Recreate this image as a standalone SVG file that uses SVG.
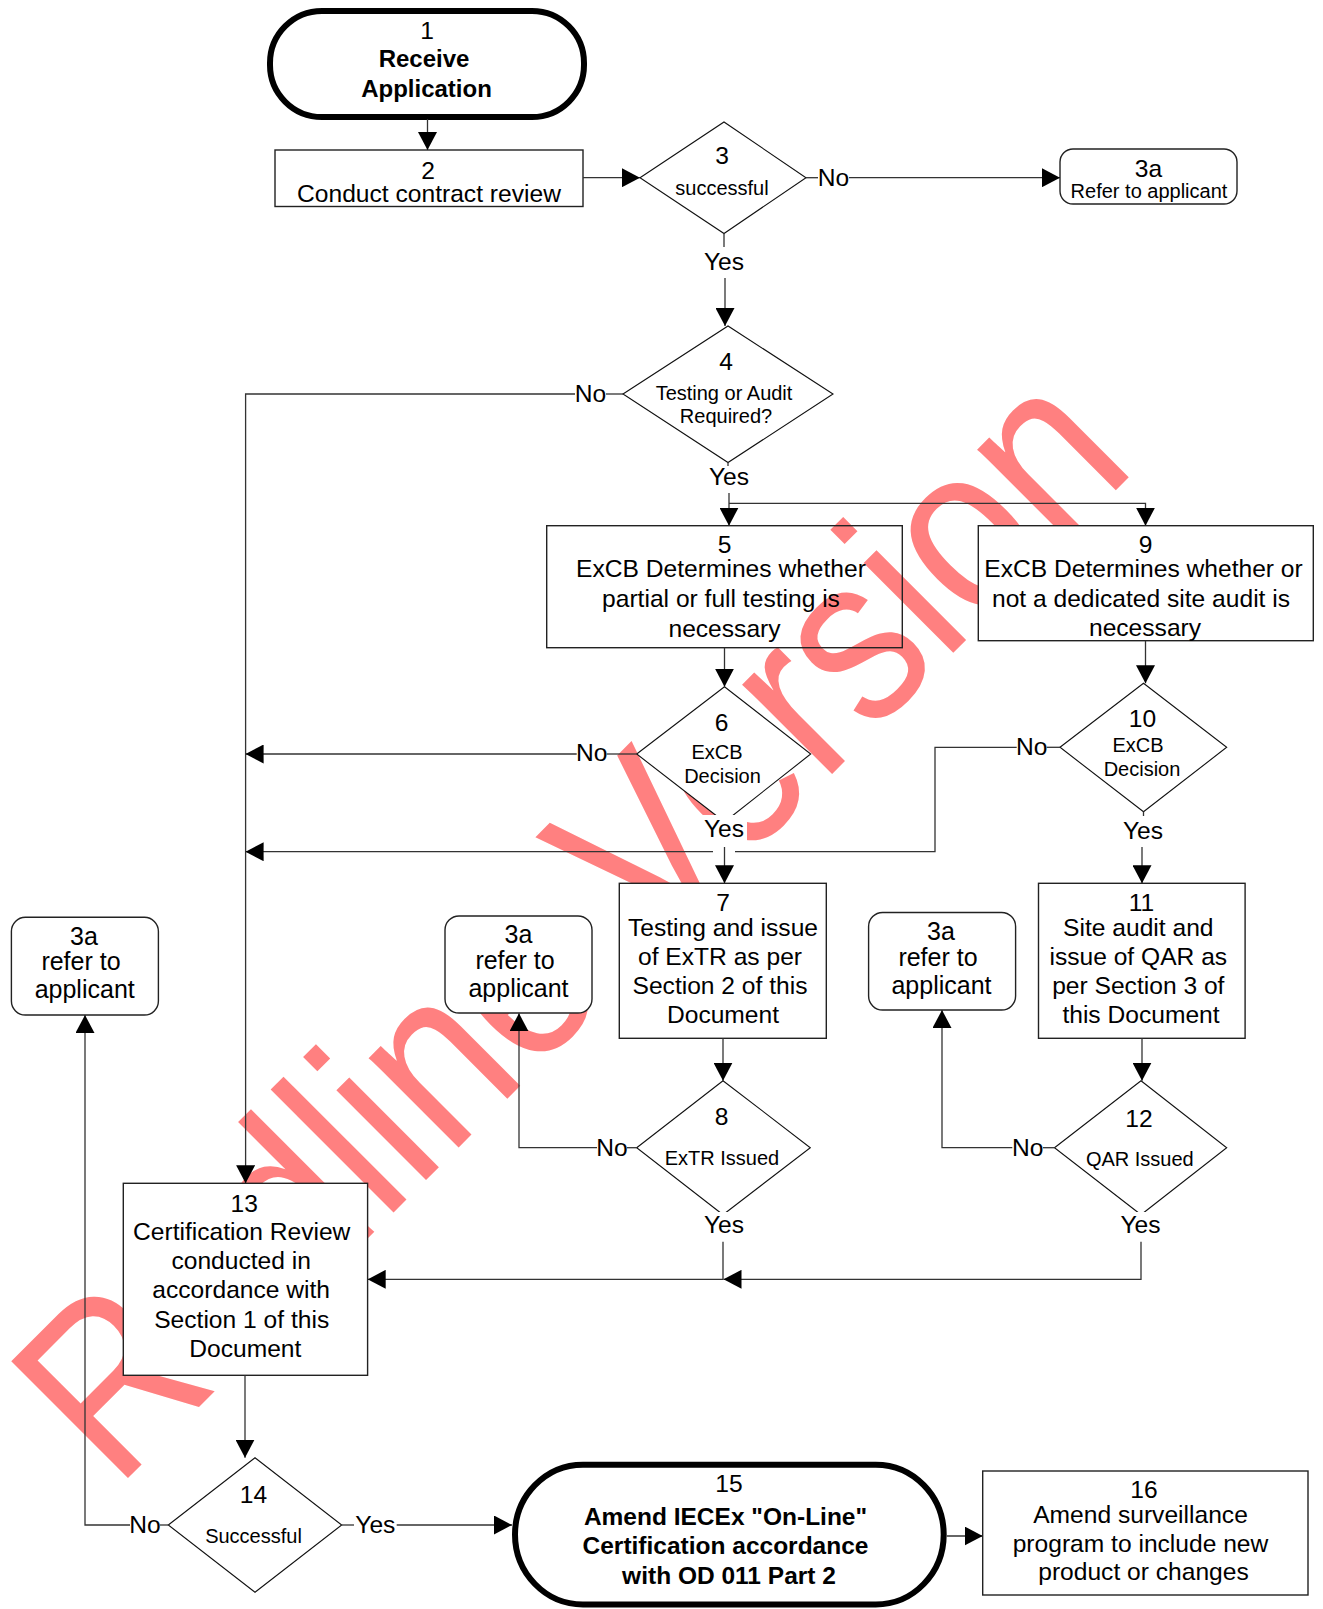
<svg xmlns="http://www.w3.org/2000/svg" width="1323" height="1609" viewBox="0 0 1323 1609">
<style>
text { font-family: "Liberation Sans", Arial, sans-serif; font-size: 24.6px; text-anchor: middle; fill: #000; }
.s { font-size: 20px; }
.r { font-size: 25px; }
.b { font-weight: bold; font-size: 24px; }
.b2 { font-weight: bold; font-size: 24.5px; }
.box { fill: #fff; stroke: #222; stroke-width: 1.4; }
.open { fill: none; stroke: #222; stroke-width: 1.4; }
.dia { fill: #fff; stroke: #111; stroke-width: 1.1; }
.term { fill: #fff; stroke: #000; stroke-width: 6; }
.c { fill: none; stroke: #333; stroke-width: 1.3; }
.a { marker-end: url(#ah); }
.lbg { fill: #fff; stroke: none; }
.wm { font-size: 240px; fill: #FF8080; text-anchor: start; }
</style>
<defs>
<marker id="ah" markerUnits="userSpaceOnUse" viewBox="0 0 18 19" markerWidth="18" markerHeight="19" refX="18" refY="9.5" orient="auto">
<path d="M0,0 L18,9.5 L0,19 z" fill="#000"/>
</marker>
</defs>

<g id="watermark">
<text class="wm" transform="translate(116,1490) rotate(-45) scale(0.86,1)" x="0" y="0">Redline Version</text>
</g>

<g id="node1">
<rect class="term" x="270" y="11" width="314" height="106" rx="52" ry="52"/>
<text x="427" y="39">1</text>
<text class="b" x="424" y="67">Receive</text>
<text class="b" x="426.5" y="96.5">Application</text>
</g>

<g id="node2">
<rect class="box" x="275" y="150" width="308" height="56.5"/>
<text x="428" y="178.5">2</text>
<text x="429" y="202">Conduct contract review</text>
</g>

<g id="node3">
<polygon class="dia" points="640,177.7 724,122 806,177.7 724,233.5"/>
<text x="722" y="164">3</text>
<text class="s" x="722" y="195">successful</text>
</g>

<g id="node3a-top">
<rect class="box" x="1060" y="149" width="177" height="55" rx="13" ry="13"/>
<text x="1148.5" y="177">3a</text>
<text class="s" x="1149" y="198">Refer to applicant</text>
</g>

<g id="node4">
<polygon class="dia" points="623,394 728,326 833,394 728,462.5"/>
<text x="726" y="370">4</text>
<text class="s" x="724" y="399.5">Testing or Audit</text>
<text class="s" x="726" y="422.5">Required?</text>
</g>

<g id="node5">
<rect class="open" x="546.7" y="525.7" width="355.6" height="122"/>
<text x="724.5" y="553.3">5</text>
<text x="721" y="577.3">ExCB Determines whether</text>
<text x="721" y="607">partial or full testing is</text>
<text x="724.5" y="636.5">necessary</text>
</g>

<g id="node9">
<rect class="box" x="978.3" y="525.7" width="335" height="115"/>
<text x="1145.5" y="553.3">9</text>
<text x="1143.5" y="577.3">ExCB Determines whether or</text>
<text x="1141" y="606.7">not a dedicated site audit is</text>
<text x="1145" y="636">necessary</text>
</g>

<g id="node6">
<polygon class="dia" points="636.7,754 724.5,686.7 810.7,754 724.5,822"/>
<text x="721.6" y="730.7">6</text>
<text class="s" x="717" y="759">ExCB</text>
<text class="s" x="722.5" y="782.7">Decision</text>
</g>

<g id="node10">
<polygon class="dia" points="1060,747.3 1143.5,683.3 1226.7,747.3 1143.5,811.7"/>
<text x="1142.5" y="727.3">10</text>
<text class="s" x="1138" y="752.3">ExCB</text>
<text class="s" x="1142" y="776">Decision</text>
</g>

<g id="node7">
<rect class="box" x="619.3" y="883.3" width="207" height="155"/>
<text x="723" y="910.7">7</text>
<text x="723" y="936">Testing and issue</text>
<text x="720" y="965">of ExTR as per</text>
<text x="720" y="994">Section 2 of this</text>
<text x="723" y="1022.7">Document</text>
</g>

<g id="node11">
<rect class="box" x="1038.5" y="883.3" width="206.6" height="155"/>
<text x="1141.5" y="910.7">11</text>
<text x="1138.3" y="936">Site audit and</text>
<text x="1138.3" y="965">issue of QAR as</text>
<text x="1138.3" y="994">per Section 3 of</text>
<text x="1141" y="1022.7">this Document</text>
</g>

<g id="node3a-left">
<rect class="box" x="11.4" y="917.3" width="147" height="97.7" rx="14" ry="14"/>
<text class="r" x="84" y="945">3a</text>
<text class="r" x="81" y="970">refer to</text>
<text class="r" x="84.7" y="998.3">applicant</text>
</g>

<g id="node3a-mid">
<rect class="box" x="445" y="916" width="147" height="97" rx="14" ry="14"/>
<text class="r" x="518.5" y="943">3a</text>
<text class="r" x="515" y="969">refer to</text>
<text class="r" x="518.5" y="997">applicant</text>
</g>

<g id="node3a-right">
<rect class="box" x="868.6" y="912.5" width="147" height="97.5" rx="14" ry="14"/>
<text class="r" x="941" y="940">3a</text>
<text class="r" x="938" y="965.7">refer to</text>
<text class="r" x="941.5" y="994">applicant</text>
</g>

<g id="node8">
<polygon class="dia" points="636.7,1147.7 723,1080.7 810.3,1147.7 723,1214.7"/>
<text x="721.6" y="1125">8</text>
<text class="s" x="722" y="1165">ExTR Issued</text>
</g>

<g id="node12">
<polygon class="dia" points="1054.5,1147.7 1141,1080.7 1226.7,1147.7 1141,1214.7"/>
<text x="1139" y="1126.7">12</text>
<text class="s" x="1139.8" y="1165.7">QAR Issued</text>
</g>

<g id="node13">
<rect class="box" x="123.3" y="1183.3" width="244.3" height="192"/>
<text x="244.3" y="1211.7">13</text>
<text x="241.7" y="1240">Certification Review</text>
<text x="241.2" y="1269">conducted in</text>
<text x="241.2" y="1298.3">accordance with</text>
<text x="241.7" y="1327.7">Section 1 of this</text>
<text x="245.3" y="1356.7">Document</text>
</g>

<g id="node14">
<polygon class="dia" points="168.3,1525 255,1457.7 341.7,1525 255,1592.3"/>
<text x="253.5" y="1502.7">14</text>
<text class="s" x="253.5" y="1543.3">Successful</text>
</g>

<g id="node15">
<rect class="term" x="515" y="1464.7" width="428.7" height="139.8" rx="68" ry="70"/>
<text x="729" y="1491.7">15</text>
<text class="b2" x="725.5" y="1525">Amend IECEx "On-Line"</text>
<text class="b2" x="725.5" y="1554">Certification accordance</text>
<text class="b2" x="729" y="1584.3">with OD 011 Part 2</text>
</g>

<g id="node16">
<rect class="box" x="982.7" y="1471" width="325.3" height="124"/>
<text x="1144" y="1498.3">16</text>
<text x="1140.5" y="1522.7">Amend surveillance</text>
<text x="1140.5" y="1551.7">program to include new</text>
<text x="1143.5" y="1580">product or changes</text>
</g>

<g id="connectors">
<path class="c a" d="M427.5,119 V150"/>
<path class="c a" d="M583,177.7 H640"/>
<path class="c" d="M806,177.7 H818"/>
<path class="c a" d="M849,177.7 H1060"/>
<path class="c" d="M724,233.5 V247"/>
<path class="c a" d="M725,278 V326"/>
<path class="c" d="M623,394 H606"/>
<path class="c a" d="M575,394 H245.6 V1183.3"/>
<path class="c" d="M728,462.5 V467"/>
<path class="c a" d="M729,493 V525.7"/>
<path class="c a" d="M729,503.3 H1145.5 V525.7"/>
<path class="c a" d="M724.5,647.7 V686.7"/>
<path class="c" d="M636.7,754 H606.7"/>
<path class="c a" d="M576.7,754 H245.6"/>
<path class="c a" d="M724.5,847 V883.3"/>
<path class="c a" d="M1145.5,640.7 V683.3"/>
<path class="c" d="M1060,747.3 H1046.7"/>
<path class="c" d="M1016.7,747.3 H935 V851.7 H735"/>
<path class="c a" d="M713,851.7 H245.6"/>
<path class="c" d="M1143.5,811.7 V816"/>
<path class="c a" d="M1142,847 V883.3"/>
<path class="c a" d="M723,1038.3 V1080.7"/>
<path class="c" d="M636.7,1147.7 H627"/>
<path class="c a" d="M597,1147.7 H519 V1013.3"/>
<path class="c a" d="M723,1241.7 V1279.3 H367.7"/>
<path class="c a" d="M1142,1038.3 V1080.7"/>
<path class="c" d="M1054.5,1147.7 H1043"/>
<path class="c a" d="M1012.3,1147.7 H942 V1010"/>
<path class="c a" d="M1141,1241.7 V1279.3 H723.5"/>
<path class="c a" d="M245,1375.3 V1457.7"/>
<path class="c" d="M168.3,1525 H160"/>
<path class="c a" d="M130,1525 H85 V1015"/>
<path class="c" d="M341.7,1525 H354"/>
<path class="c a" d="M396.7,1525 H512"/>
<path class="c a" d="M946.7,1536 H982.7"/>
</g>

<g id="labels">
<text x="833.5" y="186">No</text>
<rect class="lbg" x="702" y="250" width="44" height="27"/>
<text x="724" y="270">Yes</text>
<text x="590.5" y="402">No</text>
<rect class="lbg" x="707" y="466" width="44" height="26"/>
<text x="729" y="485">Yes</text>
<text x="591.7" y="761">No</text>
<rect class="lbg" x="701" y="815" width="46" height="32"/>
<text x="724" y="837.3">Yes</text>
<text x="1031.7" y="755">No</text>
<rect class="lbg" x="1121" y="816" width="44" height="30"/>
<text x="1143" y="839">Yes</text>
<text x="612" y="1155.5">No</text>
<rect class="lbg" x="701" y="1212" width="45" height="29"/>
<text x="724" y="1232.7">Yes</text>
<text x="1027.7" y="1155.7">No</text>
<rect class="lbg" x="1118" y="1212" width="45" height="29"/>
<text x="1140.5" y="1233.3">Yes</text>
<text x="145" y="1532.7">No</text>
<text x="375.3" y="1532.7">Yes</text>
</g>
</svg>
